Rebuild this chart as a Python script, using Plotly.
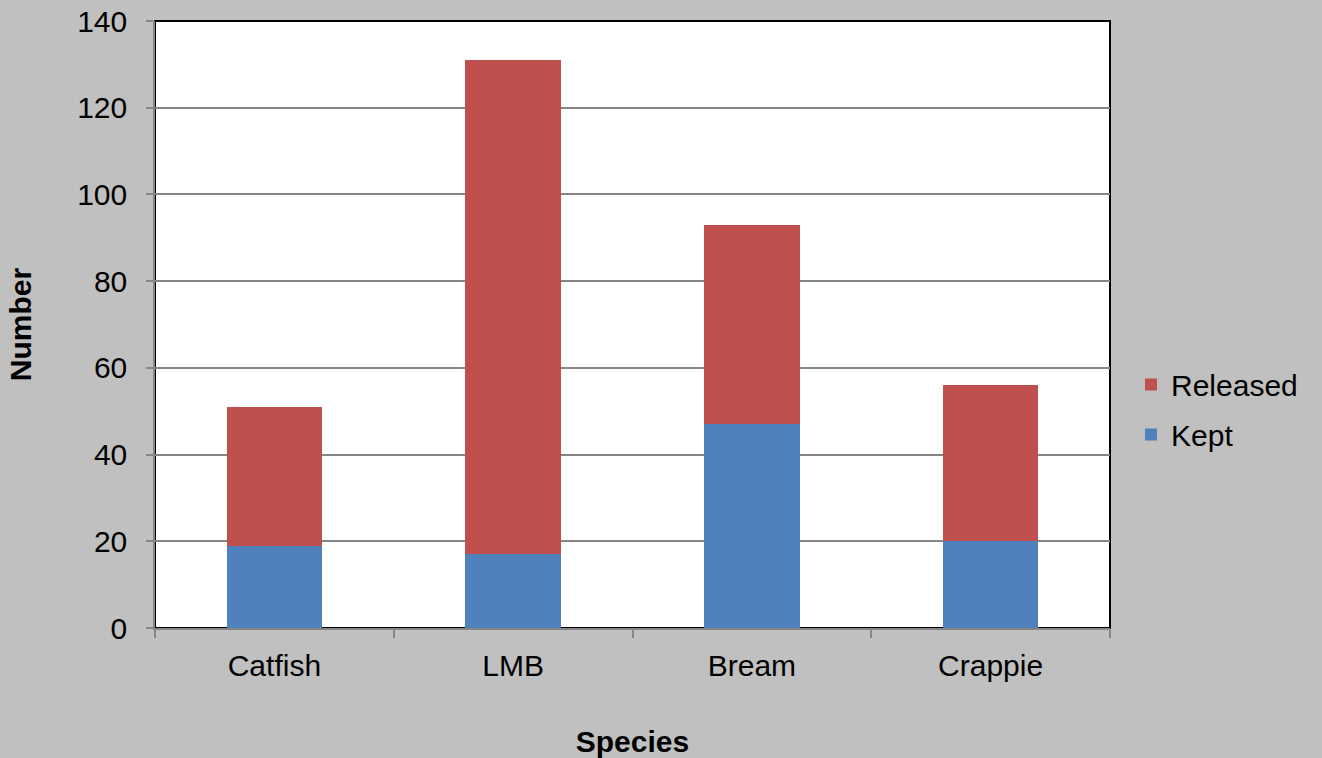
import plotly.graph_objects as go

species = ["Catfish", "LMB", "Bream", "Crappie"]
kept = [19, 17, 47, 20]
released = [32, 114, 46, 36]
y_ticks = [0, 20, 40, 60, 80, 100, 120, 140]

FONT = "Liberation Sans, Arial, sans-serif"
GRAY = "#868686"

fig = go.Figure()
fig.add_trace(go.Bar(name="Kept", x=species, y=kept, legendgroup="k", legendrank=2,
                     marker=dict(color="#4F81BD", line=dict(width=0))))
fig.add_trace(go.Bar(name="Released", x=species, y=released, legendgroup="r", legendrank=1,
                     marker=dict(color="#C0504D", line=dict(width=0))))

fig.update_layout(
    width=1322, height=758,
    barmode="stack", bargap=0.6,
    paper_bgcolor="#C0C0C0", plot_bgcolor="white",
    margin=dict(l=155, r=212, t=21, b=130, autoexpand=False),
    font=dict(family=FONT, size=30, color="black"),
    legend=dict(x=1.022, xanchor="left", y=0.36, yanchor="middle",
                traceorder="grouped", bgcolor="rgba(0,0,0,0)",
                tracegroupgap=8, font=dict(size=30), itemwidth=30),
    showlegend=True,
)
fig.update_xaxes(
    automargin=False,
    showline=True, linecolor=GRAY, linewidth=1.5,
    ticks="outside", tickson="boundaries", ticklen=8, tickcolor=GRAY, tickwidth=1.5,
    ticklabelstandoff=10,
    showgrid=False,
    title=dict(text="<b>Species</b>", font=dict(size=30), standoff=50),
    tickfont=dict(size=30),
)
fig.update_yaxes(
    automargin=False,
    range=[0, 140], tickvals=y_ticks,
    showline=True, linecolor=GRAY, linewidth=1.5,
    ticks="outside", ticklen=7, tickcolor=GRAY, tickwidth=1.5,
    ticklabelstandoff=13,
    showgrid=True, gridcolor=GRAY, gridwidth=1.5,
    zeroline=False,
    title=dict(text="<b>Number</b>", font=dict(size=30), standoff=37),
    tickfont=dict(size=30),
)
fig.add_shape(type="rect", xref="paper", yref="paper", x0=0, x1=1, y0=0, y1=1,
              line=dict(color="black", width=2), layer="below")

fig.write_html("out.html", config={"displayModeBar": False},
               post_script="document.body.style.margin='0';document.body.style.overflow='hidden';")
